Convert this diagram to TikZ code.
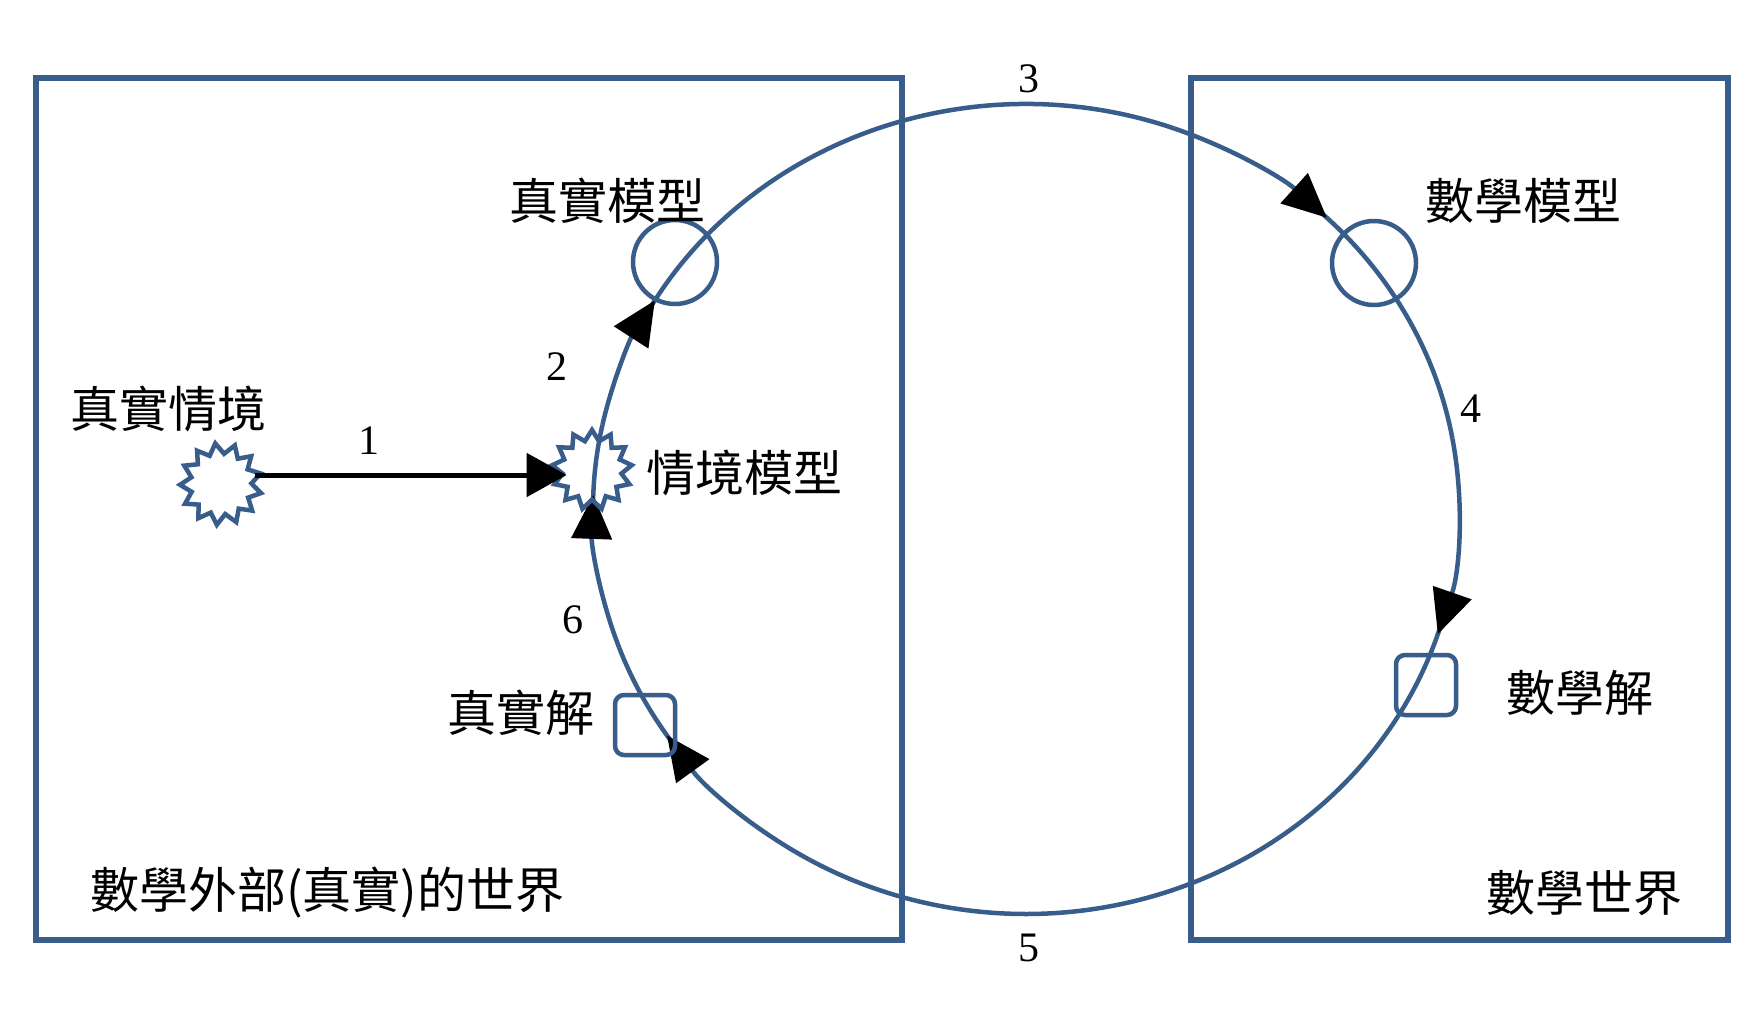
\documentclass[tikz,border=0pt]{standalone}
\usepackage{fontspec}
\setmainfont{Liberation Serif}
\newfontfamily\cjk{Noto Sans CJK TC}
\usetikzlibrary{arrows.meta,shapes.geometric,calc}
\definecolor{wordblue}{RGB}{56,93,138}
\begin{document}
\begin{tikzpicture}[x=1pt,y=-1pt,
  frame/.style={draw=wordblue, line width=6pt},
  ell/.style={draw=wordblue, line width=4.5pt},
  ring/.style={circle, draw=wordblue, line width=4.5pt, minimum size=84pt, inner sep=0pt},
  sq/.style={rectangle, rounded corners=9pt, draw=wordblue, line width=4.5pt, minimum size=60pt, inner sep=0pt},
  burst/.style={star, star points=13, star point ratio=1.35, draw=wordblue, line width=4.5pt, minimum size=82pt, inner sep=0pt},
  lbl/.style={font=\cjk\fontsize{49}{55}\selectfont, inner sep=0pt},
  num/.style={font=\fontsize{42}{46}\selectfont, inner sep=0pt},
  tipb/.style={-{Triangle[length=44pt,width=40pt,color=black]}},
]
\fill[white] (0,0) rectangle (1764,1010);
\useasboundingbox (0,0) rectangle (1764,1010);

% world frames
\draw[frame] (36,78) rectangle (902,940);
\draw[frame] (1191,78) rectangle (1728,940);

% cycle ellipse: centre and points where pieces start
\coordinate (E) at (1026,509);
\coordinate (p2) at ({1026+433*cos(192)},{509+405*sin(192)});
\coordinate (p3) at ({1026+433*cos(290)},{509+405*sin(290)});
\coordinate (p4) at ({1026+433*cos(350)},{509+405*sin(350)});
\coordinate (p5) at ({1026+433*cos(120)},{509+405*sin(120)});
\coordinate (p6) at ({1026+433*cos(160)},{509+405*sin(160)});
\coordinate (e2) at ({1026+433*cos(206)},{509+405*sin(206)});
\coordinate (e3) at ({1026+433*cos(309)},{509+405*sin(309)});
\coordinate (e4) at ({1026+433*cos(13)},{509+405*sin(13)});
\coordinate (e5) at ({1026+433*cos(141)},{509+405*sin(141)});
\coordinate (e6) at ({1026+433*cos(177)},{509+405*sin(177)});

% plain pieces of the ellipse (from under an arrowhead to the next arrowed piece)
\draw[ell] (e2) arc[start angle=206, end angle=290, x radius=433, y radius=405];
\draw[ell] (e3) arc[start angle=309, end angle=350, x radius=433, y radius=405];
\draw[ell] (e4) arc[start angle=13, end angle=120, x radius=433, y radius=405];
\draw[ell] (e5) arc[start angle=141, end angle=160, x radius=433, y radius=405];
\draw[ell] (e6) arc[start angle=177, end angle=192, x radius=433, y radius=405];

% step arcs with arrowheads
\draw[ell, tipb] (p2) arc[start angle=192, end angle=211, x radius=433, y radius=405];
\draw[ell, tipb] (p3) arc[start angle=290, end angle=314, x radius=433, y radius=405];
\draw[ell, tipb] (p4) arc[start angle=350, end angle=378, x radius=433, y radius=405];
\draw[ell, tipb] (p5) arc[start angle=120, end angle=146, x radius=433, y radius=405];
\draw[ell, tipb] (p6) arc[start angle=160, end angle=182, x radius=433, y radius=405];

% nodes on the cycle
\node[burst, shape border rotate=8] (s1) at (221,484) {};
\node[burst, minimum size=80pt] (s2) at (592,470) {};
\node[ring] (c1) at (675,262) {};
\node[ring] (c2) at (1374,263) {};
\node[sq] (q1) at (645,725) {};
\node[sq] (q2) at (1426,685) {};

% step 1
\draw[line width=5pt, -{Triangle[length=40pt,width=43pt]}, shorten >=-12pt] (s1.east |- 0,475) -- (s2.west |- 0,475);

% labels
\node[lbl] (t1) at (168,409) {真實情境};
\node[lbl] (t2) at (607,201) {真實模型};
\node[lbl] (t3) at (744,473) {情境模型};
\node[lbl] (t4) at (1523,201) {數學模型};
\node[lbl] (t5) at (521,713) {真實解};
\node[lbl] (t6) at (1580,693) {數學解};
\node[lbl, anchor=west] (t7) at (90,893) {數學外部(真實)的世界};
\node[lbl] (t8) at (1584,893) {數學世界};

% step numbers
\node[num] (n1) at (369,441) {1};
\node[num] (n2) at (557,367) {2};
\node[num] (n3) at (1029,79) {3};
\node[num] (n4) at (1471,409) {4};
\node[num] (n5) at (1029,948) {5};
\node[num] (n6) at (573,620) {6};
\end{tikzpicture}
\end{document}
